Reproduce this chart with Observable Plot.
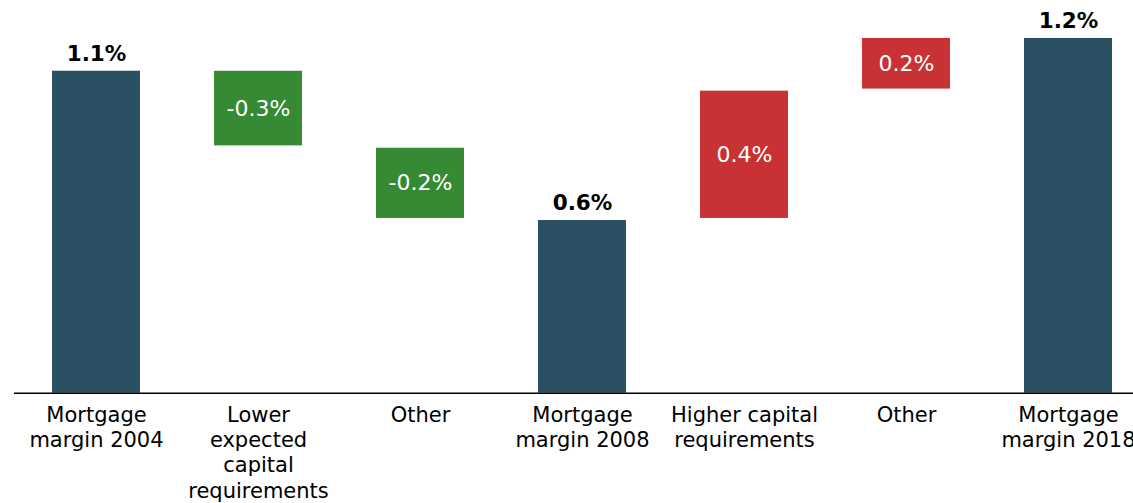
<!DOCTYPE html>
<html><head><meta charset="utf-8">
<script src="https://cdn.jsdelivr.net/npm/d3@7"></script>
<script src="https://cdn.jsdelivr.net/npm/@observablehq/plot@0.6"></script>
<style>html,body{margin:0;padding:0;background:#fff;overflow:hidden}</style>
</head><body><div id="chart"></div>
<script>
const categories = ["Mortgage\nmargin 2004", "Lower\nexpected\ncapital\nrequirements", "Other", "Mortgage\nmargin 2008", "Higher capital\nrequirements", "Other", "Mortgage\nmargin 2018"];
const kinds = ["total", "decrease", "decrease", "total", "increase", "increase", "total"];
const lows = [0, 0.845, 0.597, 0, 0.597, 1.039, 0];
const highs = [1.10, 1.10, 0.837, 0.59, 1.032, 1.212, 1.212];
const valueLabels = ["1.1%", "-0.3%", "-0.2%", "0.6%", "0.4%", "0.2%", "1.2%"];

const data = categories.map((c, i) => ({i, label: c, kind: kinds[i], low: lows[i], high: highs[i], text: valueLabels[i]}));

const chart = Plot.plot({
  width: 1133,
  height: 503,
  marginTop: 12,
  marginBottom: 110,
  marginLeft: 14,
  marginRight: 0,
  style: {fontFamily: "DejaVu Sans, Verdana, sans-serif", fontSize: "21px", background: "#fff", overflow: "hidden"},
  x: {type: "band", domain: d3.range(categories.length), range: [14, 1150.3], paddingInner: 0.458, paddingOuter: 0.229, axis: null},
  y: {domain: [0, 1.3], range: [392.7, 12.2], axis: null},
  color: {domain: ["total", "decrease", "increase"], range: ["#2b4f63", "#368a33", "#c83235"]},
  marks: [
    Plot.barY(data, {x: "i", y1: "low", y2: "high", fill: "kind"}),
    Plot.ruleY([0], {stroke: "#000", strokeWidth: 1.5}),
    Plot.text(data.filter(d => d.kind === "total"), {x: "i", y: "high", text: "text", dy: -17, fontWeight: "bold", fill: "#000", fontSize: 21.5, lineAnchor: "middle"}),
    Plot.text(data.filter(d => d.kind !== "total"), {x: "i", y: d => (d.low + d.high) / 2, text: "text", fill: "#fff", fontSize: 22, lineAnchor: "middle"}),
    Plot.text(data, {x: "i", y: d => 0, text: "label", lineAnchor: "top", dy: 11, lineHeight: 1.2, fill: "#000", fontSize: 21})
  ]
});
document.getElementById("chart").appendChild(chart);
</script>
</body></html>
